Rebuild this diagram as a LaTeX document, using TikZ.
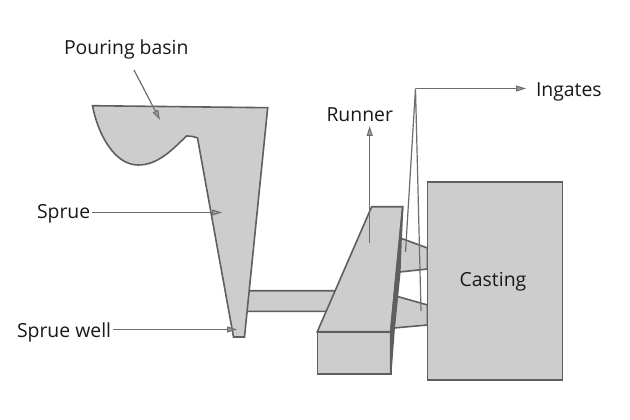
\documentclass[tikz,border=0pt]{standalone}
\usepackage{fontspec}
\setmainfont{Open Sans}
\usetikzlibrary{arrows.meta}
\definecolor{edgegray}{HTML}{5F5F5F}
\definecolor{leadgray}{HTML}{6E6E6E}
\definecolor{fillgray}{HTML}{CDCDCD}
\tikzset{
  part/.style={draw=edgegray,fill=fillgray,line width=1.6pt,line join=miter},
  leader/.style={draw=leadgray,line width=1.2pt},
  leadarrow/.style={leader,-{Triangle[length=10pt,width=6pt,line width=1pt,fill=leadgray!70]}},
  lbl/.style={font=\fontsize{19.4pt}{22pt}\selectfont,text=black!90,inner sep=0pt,outer sep=0pt}
}
\begin{document}
\begin{tikzpicture}[x=1pt,y=-1pt]
\useasboundingbox[fill=white] (0,0) rectangle (630,420);
% casting and ingates
\draw[part] (398,237.2) -- (427.5,248) -- (427.5,269) -- (395,272.5) -- cycle;
\draw[part] (392,294.9) -- (427.5,305) -- (427.5,325) -- (389,328.4) -- cycle;
\node[part,minimum width=135pt,minimum height=198pt,inner sep=0pt,outer sep=0pt,anchor=north west] (casting) at (427.5,182) {};
\node[lbl] (castinglabel) at (493,281.5) {Casting};
% connecting channel
\draw[part] (245,290.7) -- (340,290.7) -- (335,311.3) -- (245,311.3);
% pouring basin and sprue
\draw[part] (92.5,105.7) -- (267.7,107.7) -- (244.5,337) -- (233.5,337) -- (197.5,138)
  .. controls (194,136.5) and (190,136) .. (186.5,136)
  .. controls (172,150) and (158,165) .. (138,165)
  .. controls (115,165) and (98,135) .. cycle;
% runner
\draw[part] (371.7,206.7) -- (402.7,206.7) -- (390.7,331.7) -- (317.3,331.7) -- cycle;
\draw[part] (317.3,331.7) rectangle (390.7,373.7);
\draw[part,fill=edgegray] (402.7,206.7) -- (401,240) -- (399.8,272) -- (394,330) -- (390.7,373.7) -- (390.7,331.7) -- cycle;
% labels
\node[lbl,anchor=west] (basinlabel) at (64,49) {Pouring basin};
\node[lbl,anchor=west] (spruelabel) at (37,214) {Sprue};
\node[lbl,anchor=west] (welllabel) at (17,332) {Sprue well};
\node[lbl,anchor=west] (runnerlabel) at (326.5,115) {Runner};
\node[lbl,anchor=west] (ingateslabel) at (536,92) {Ingates};
% leader anchors
\coordinate (basintail) at (134,70);
\coordinate (basintip) at (160,120);
\coordinate (spruetail) at (92,212.5);
\coordinate (spruetip) at (222,212.5);
\coordinate (welltail) at (113,329.5);
\coordinate (welltip) at (237,329.5);
\coordinate (runnertail) at (369.7,243);
\coordinate (runnertip) at (369.7,126);
\coordinate (hub) at (415.5,88.5);
\coordinate (ingatetip) at (526,88.5);
\coordinate (ingateA) at (405.5,252);
\coordinate (ingateB) at (421,311);
\draw[leadarrow] (basintail) -- (basintip);
\draw[leadarrow] (spruetail) -- (spruetip);
\draw[leadarrow] (welltail) -- (welltip);
\draw[leadarrow] (runnertail) -- (runnertip);
\draw[leadarrow] (hub) -- (ingatetip);
\draw[leader] (ingateA) -- (hub) -- (ingateB);
\end{tikzpicture}
\end{document}
